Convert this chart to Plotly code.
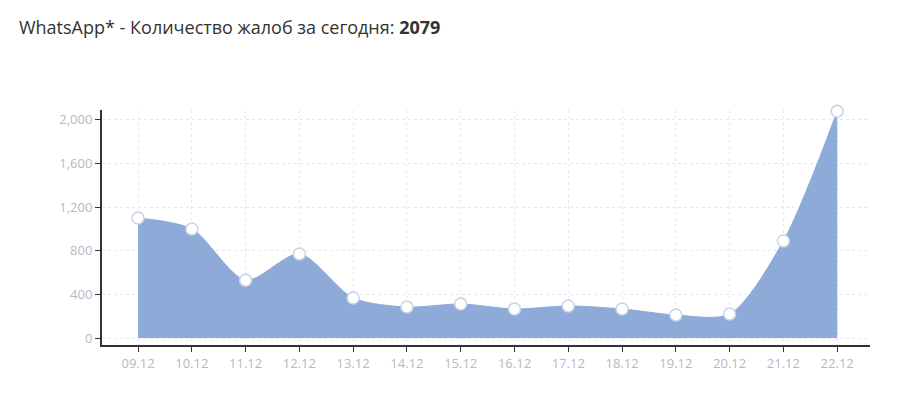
import plotly.graph_objects as go

dates = ["09.12","10.12","11.12","12.12","13.12","14.12","15.12","16.12","17.12","18.12","19.12","20.12","21.12","22.12"]
complaints = [1100, 1000, 530, 770, 367, 284, 312, 266, 294, 266, 211, 220, 890, 2079]
y_ticks = [0, 400, 800, 1200, 1600, 2000]

fig = go.Figure(go.Scatter(
    x=dates, y=complaints, mode="lines+markers",
    line=dict(shape="spline", smoothing=0.8, color="#8eaad8", width=1),
    fill="tozeroy", fillcolor="#8eaad8",
    marker=dict(size=12, color="white", line=dict(color="#c9d3e6", width=1.5)),
    cliponaxis=False, hoverinfo="x+y"))

fig.update_layout(
    width=913, height=400, plot_bgcolor="white", paper_bgcolor="white",
    margin=dict(l=94, r=51, t=102, b=63), showlegend=False,
    font=dict(family="Open Sans", color="#b5b9c6", size=13),
    title=dict(text="WhatsApp* - Количество жалоб за сегодня: <b>2079</b>",
               x=0.012, xanchor="left", y=0.95, yanchor="middle",
               font=dict(size=18, color="#333333", family="Open Sans")),
)
fig.update_xaxes(type="category", range=[-0.67, 13.61], showline=True, linecolor="#333",
                 linewidth=2, ticks="outside", ticklen=5, tickcolor="#333",
                 showgrid=True, gridcolor="#e6e9ef", griddash="dot", gridwidth=1)
fig.update_yaxes(range=[-64, 2090], tickvals=y_ticks, tickformat=",d", showline=True,
                 linecolor="#333", linewidth=2, ticks="outside", ticklen=5, tickcolor="#333",
                 showgrid=True, gridcolor="#e6e9ef", griddash="dot", zeroline=False)
fig.write_html("out.html")
